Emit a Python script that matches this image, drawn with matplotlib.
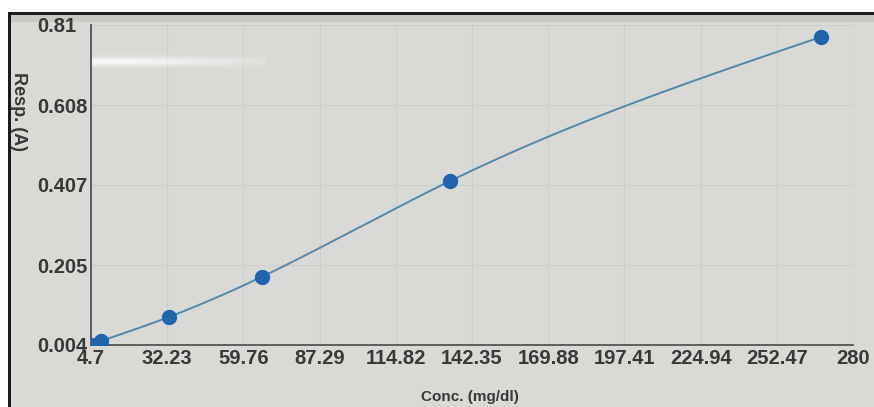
import numpy as np
import matplotlib
matplotlib.use("Agg")
import matplotlib.pyplot as plt
from matplotlib.patches import Rectangle

# Calibration standards: concentration (mg/dl) vs. absorbance
conc = [4.7, 8.3, 33.0, 66.5, 134.4, 268.5]
resp = [0.004, 0.014, 0.075, 0.176, 0.417, 0.780]

x_ticks = [4.7, 32.23, 59.76, 87.29, 114.82, 142.35, 169.88, 197.41, 224.94, 252.47, 280]
y_ticks = [0.004, 0.205, 0.407, 0.608, 0.81]

BG = "#d9dad6"
LINE = "#4f8aaa"
DOT = "#1f64ad"
TXT = "#383838"


def natural_spline(x, y, xs):
    x = np.asarray(x, float)
    y = np.asarray(y, float)
    n = len(x)
    h = np.diff(x)
    A = np.zeros((n, n))
    r = np.zeros(n)
    A[0, 0] = A[-1, -1] = 1
    for i in range(1, n - 1):
        A[i, i - 1] = h[i - 1]
        A[i, i] = 2 * (h[i - 1] + h[i])
        A[i, i + 1] = h[i]
        r[i] = 3 * ((y[i + 1] - y[i]) / h[i] - (y[i] - y[i - 1]) / h[i - 1])
    c = np.linalg.solve(A, r)
    b = (y[1:] - y[:-1]) / h - h * (2 * c[:-1] + c[1:]) / 3
    d = (c[1:] - c[:-1]) / (3 * h)
    idx = np.clip(np.searchsorted(x, xs) - 1, 0, n - 2)
    dx = xs - x[idx]
    return y[idx] + b[idx] * dx + c[idx] * dx ** 2 + d[idx] * dx ** 3


W, H = 874, 407
fig = plt.figure(figsize=(W / 100, H / 100), dpi=100)
fig.patch.set_facecolor("white")

def px(x0, y0, w, h, color, z=0):
    fig.add_artist(Rectangle((x0 / W, 1 - (y0 + h) / H), w / W, h / H,
                             transform=fig.transFigure, color=color, lw=0, zorder=z))

# screen panel and bezel
px(8, 12, W - 8, H - 12, BG)
px(10, 15, W - 10, 7, "#c9cac6")
px(8, 12, W - 8, 3, "#1c1c1c")
px(8, 12, 2.5, H - 12, "#1c1c1c")

ax = fig.add_axes([91 / W, 1 - 345 / H, (853 - 91) / W, (345 - 25) / H])
ax.set_facecolor(BG)
ax.set_xlim(x_ticks[0], x_ticks[-1])
ax.set_ylim(y_ticks[0], y_ticks[-1])

ax.set_xticks(x_ticks)
ax.set_xticklabels([f"{v:g}" for v in x_ticks])
ax.set_yticks(y_ticks)
ax.set_yticklabels([f"{v:g}" for v in y_ticks])
ax.grid(True, color="#cdcecA", lw=0.8)
ax.set_axisbelow(True)

for s in ["top", "right"]:
    ax.spines[s].set_visible(False)
ax.spines["left"].set_color("#5b4c5e")
ax.spines["bottom"].set_color("#555555")
ax.spines["left"].set_linewidth(1.3)
ax.spines["bottom"].set_linewidth(1.3)

ax.tick_params(length=0, colors=TXT, labelsize=14.5)
ax.tick_params(axis="x", pad=3)
ax.tick_params(axis="y", pad=39)
for t in ax.get_yticklabels():
    t.set_horizontalalignment("left")
for t in ax.get_xticklabels() + ax.get_yticklabels():
    t.set_fontfamily("Liberation Sans")
    t.set_fontweight("bold")

# soft glare streak across the upper-left of the screen
yy = np.linspace(-1, 1, 40)[:, None]
xx = np.linspace(0, 1, 200)[None, :]
alpha = np.exp(-(yy / 0.4) ** 2) * np.clip(1.25 - xx, 0, 1) * 0.8
glare = np.zeros((40, 200, 4))
glare[..., :3] = 1.0
glare[..., 3] = alpha
ax.imshow(glare, extent=(-0.01, 0.23, 0.85, 0.92), transform=ax.transAxes,
          aspect="auto", zorder=0.8, interpolation="bilinear")

# fitted calibration curve and standards
xs = np.linspace(conc[1], conc[-1], 400)
ax.plot(xs, natural_spline(conc[1:], resp[1:], xs), color=LINE, lw=1.4, zorder=2)
ax.plot(conc, resp, "o", color=DOT, ms=10, mec=DOT, zorder=3)

fig.text(470 / W, 1 - 397 / H, "Conc. (mg/dl)", ha="center", va="center",
         fontsize=11, fontweight="bold", color=TXT, family="Liberation Sans")
fig.text(18 / W, 1 - 111 / H, "Resp. (A)", ha="center", va="center", rotation=270,
         fontsize=13, fontweight="bold", color=TXT, family="Liberation Sans")

fig.savefig("out.png", dpi=100, facecolor=fig.get_facecolor())
